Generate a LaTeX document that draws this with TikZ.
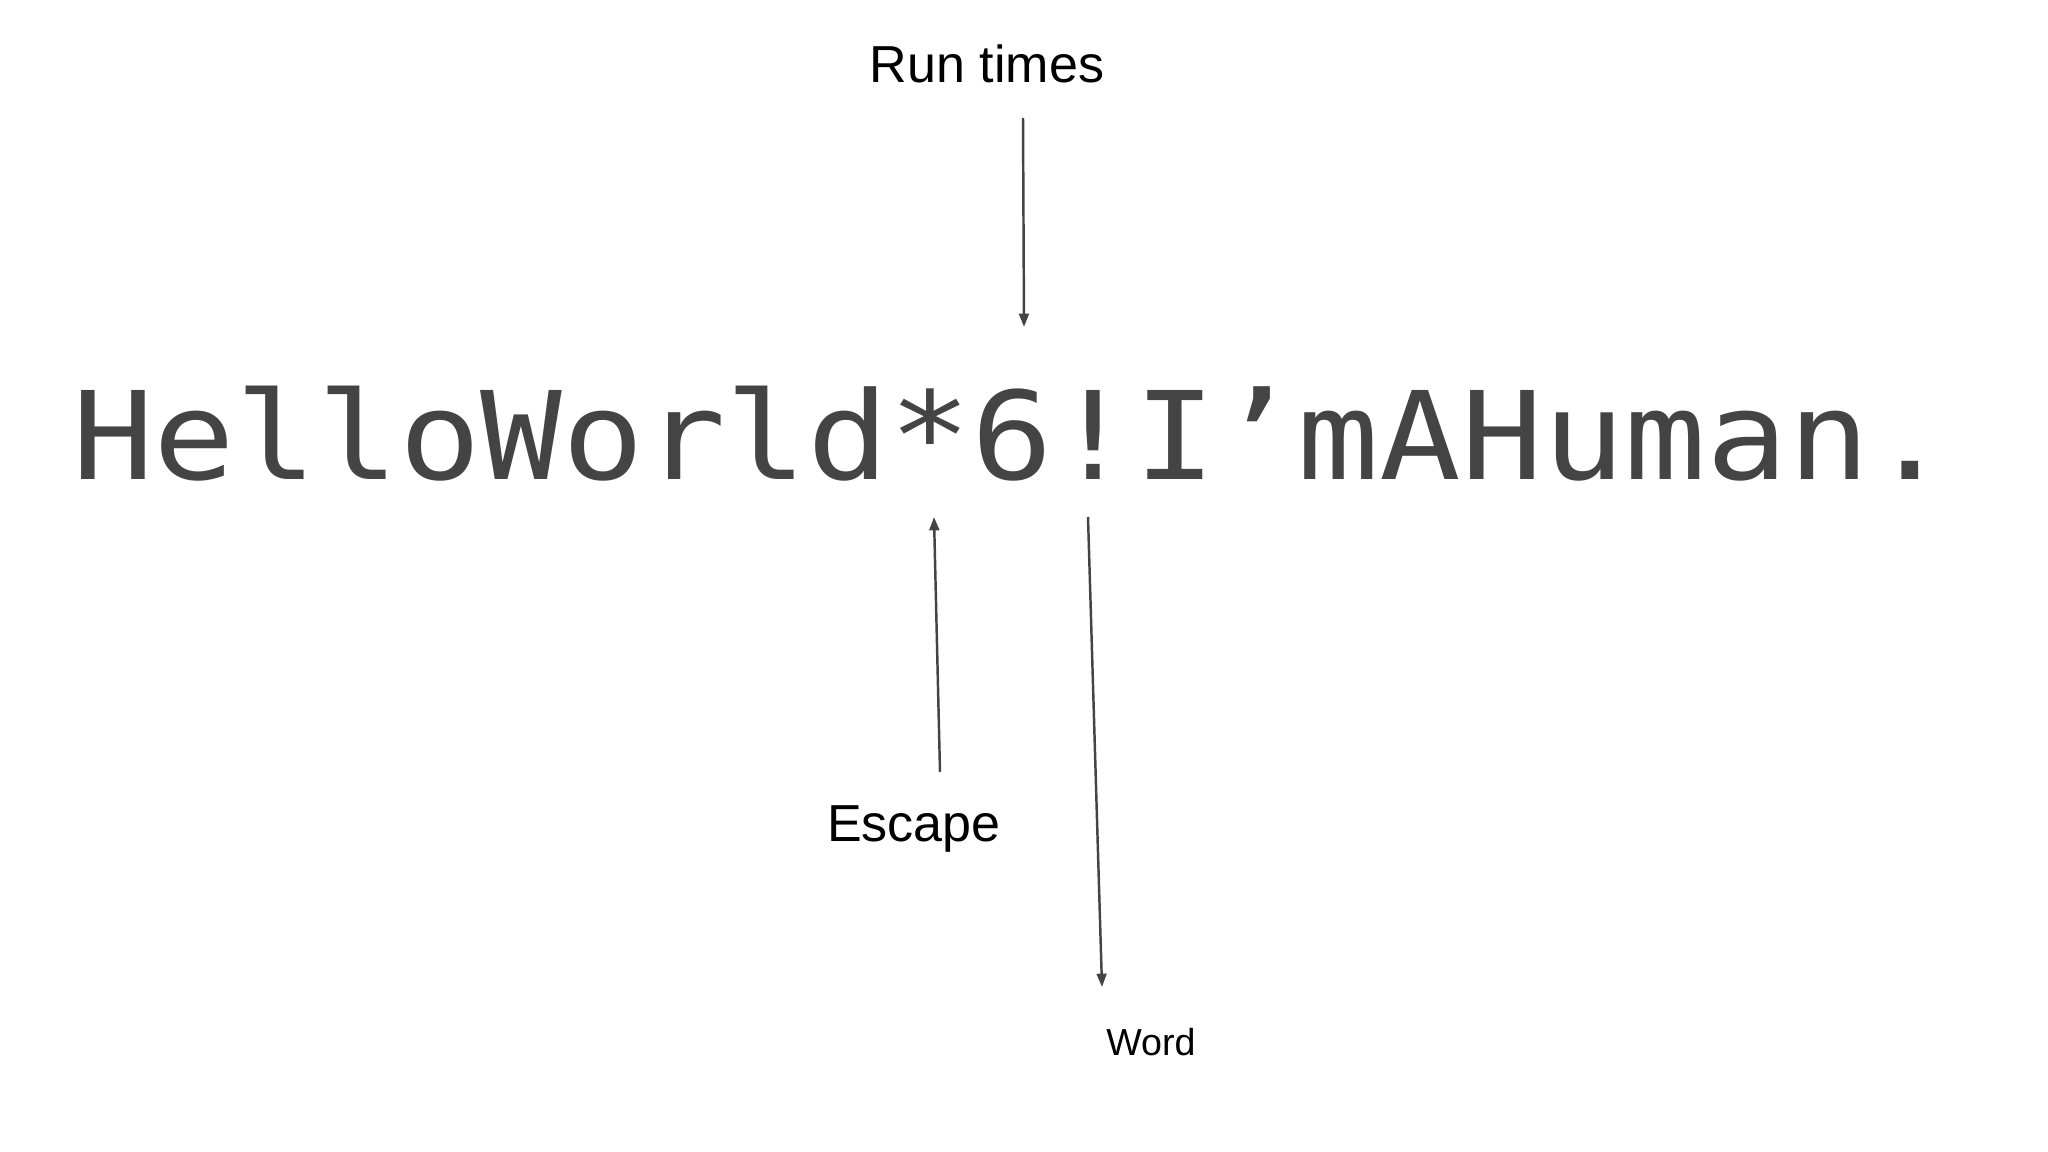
\documentclass[tikz,border=0pt]{standalone}
\usepackage{fontspec}
\setmainfont{Liberation Sans}
\newfontfamily\codefont{DejaVu Sans Mono}
\usepackage{color}
\definecolor{mygray}{RGB}{68,68,68}
\usepackage{tikz}
\usetikzlibrary{arrows.meta,positioning}
\tikzstyle{label}=[inner sep=0pt,anchor=base,text=black]
\tikzstyle{pointer}=[draw=mygray,line width=0.7pt,-{Triangle[length=3.8pt,width=2.8pt]}]

\begin{document}
\begin{tikzpicture}[x=0.01cm,y=-0.01cm]
\useasboundingbox (0,0) rectangle (2048,1152);

\node [inner sep=0pt,anchor=base,text=mygray] (code) at (1012,480)
  {\scalebox{1}[0.9]{\codefont\fontsize{38.6pt}{39pt}\selectfont HelloWorld*6!I’mAHuman.}};

\node [label,font=\fontsize{14.8pt}{17pt}\selectfont] (runs) at (987,83) {Run times};
\node [label,font=\fontsize{14.8pt}{17pt}\selectfont] (escape) at (914,841) {Escape};
\node [label,font=\fontsize{10.7pt}{13pt}\selectfont] (word) at (1151,1055) {Word};

% arrow ends
\coordinate (runs-from) at (1023,118);
\coordinate (runs-to) at (1024,327);
\coordinate (escape-from) at (940,772);
\coordinate (escape-to) at (934,517);
\coordinate (word-from) at (1088,517);
\coordinate (word-to) at (1102,987);

\draw [pointer] (runs-from) -- (runs-to);
\draw [pointer] (escape-from) -- (escape-to);
\draw [pointer] (word-from) -- (word-to);
\end{tikzpicture}
\end{document}
